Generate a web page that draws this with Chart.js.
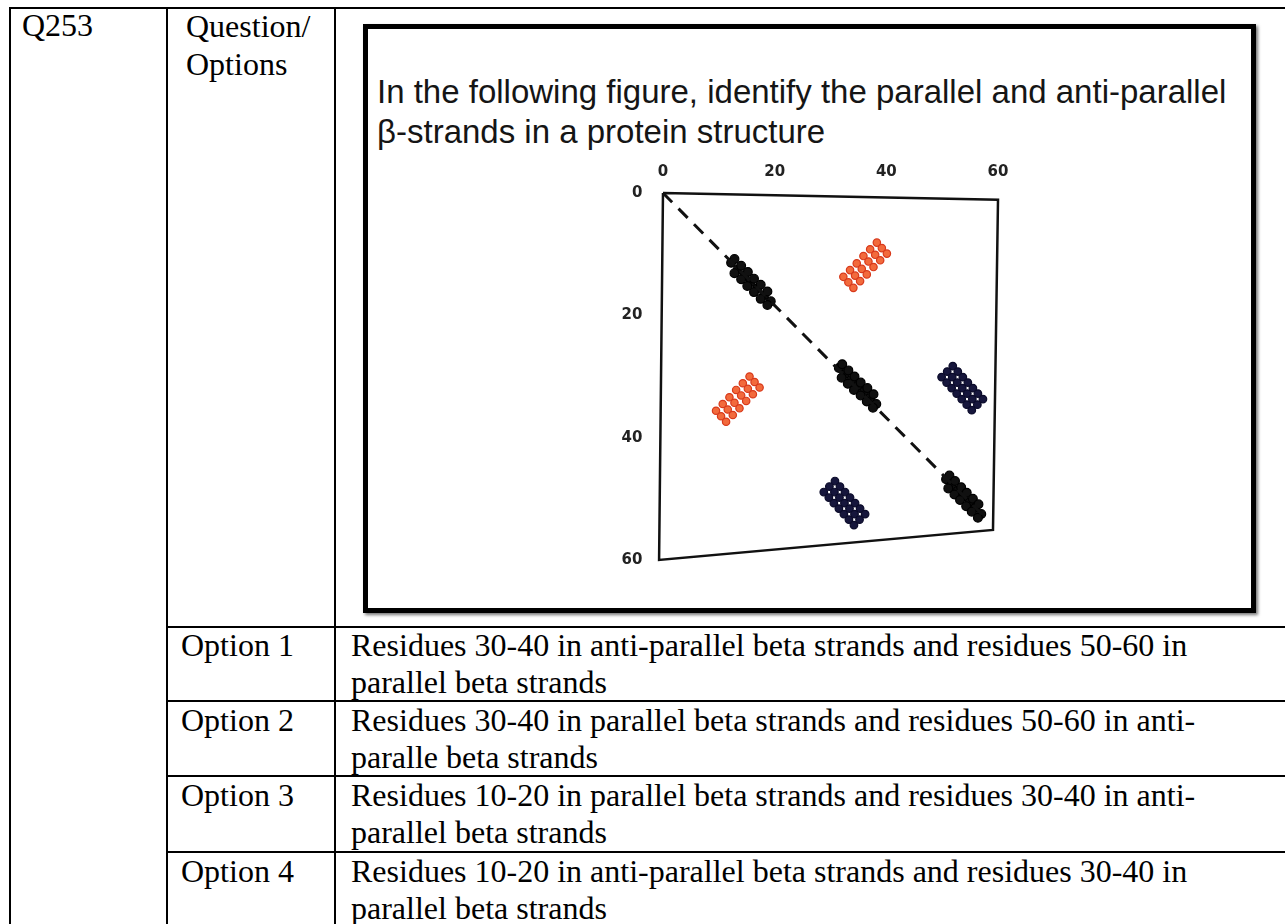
<!DOCTYPE html>
<html><head><meta charset="utf-8">
<script src="https://cdn.jsdelivr.net/npm/chart.js@4.4.1/dist/chart.umd.min.js"></script>
<style>
html,body{margin:0;padding:0;background:#fff;width:1285px;height:924px;overflow:hidden;position:relative;}
.ln{position:absolute;background:#000;}
.t{position:absolute;font-family:"Liberation Serif","Times New Roman",serif;font-size:32px;line-height:37px;color:#000;white-space:nowrap;}
#fig{position:absolute;left:363px;top:24px;width:893px;height:589px;border:5px solid #000;box-sizing:border-box;box-shadow:2px 2px 3px #777;background:#fff;}
#title{position:absolute;left:377px;top:72px;font-family:"Liberation Sans",Arial,sans-serif;font-size:33px;line-height:40px;color:#151515;white-space:nowrap;}
#chartWrap{position:absolute;left:560px;top:140px;width:480px;height:460px;}
</style></head>
<body>
<!-- table lines -->
<div class="ln" style="left:9px;top:7px;width:1276px;height:2px"></div>
<div class="ln" style="left:9px;top:7px;width:2px;height:917px"></div>
<div class="ln" style="left:166px;top:7px;width:2px;height:917px"></div>
<div class="ln" style="left:334px;top:7px;width:2px;height:917px"></div>
<div class="ln" style="left:166px;top:626px;width:1119px;height:2px"></div>
<div class="ln" style="left:166px;top:700px;width:1119px;height:2px"></div>
<div class="ln" style="left:166px;top:775px;width:1119px;height:2px"></div>
<div class="ln" style="left:166px;top:851px;width:1119px;height:2px"></div>

<div class="t" style="left:22px;top:7px">Q253</div>
<div class="t" style="left:186px;top:7px;line-height:38px">Question/<br>Options</div>

<div class="t" style="left:181px;top:627px">Option 1</div>
<div class="t" style="left:351px;top:627px">Residues 30-40 in anti-parallel beta strands and residues 50-60 in<br>parallel beta strands</div>
<div class="t" style="left:181px;top:702px">Option 2</div>
<div class="t" style="left:351px;top:702px">Residues 30-40 in parallel beta strands and residues 50-60 in anti-<br>paralle beta strands</div>
<div class="t" style="left:181px;top:777px">Option 3</div>
<div class="t" style="left:351px;top:777px">Residues 10-20 in parallel beta strands and residues 30-40 in anti-<br>parallel beta strands</div>
<div class="t" style="left:181px;top:853px">Option 4</div>
<div class="t" style="left:351px;top:853px">Residues 10-20 in anti-parallel beta strands and residues 30-40 in<br>parallel beta strands</div>

<div id="fig"></div>
<div id="title">In the following figure, identify the parallel and anti-parallel<br>β-strands in a protein structure</div>
<div id="chartWrap"><canvas id="c" width="480" height="460"></canvas></div>

<script>
// tick labels
const xTicks = [0, 20, 40, 60];
const yTicks = [0, 20, 40, 60];

// plot frame (skewed in the reference picture) and the dashed diagonal
const frameX = [0, 60, 59.1, -0.7, 0];
const frameY = [0, 1.1, 55.1, 60, 0];
const diagX = [0, 58.3];
const diagY = [0, 53.6];

// black clusters on the diagonal
const blackAX = [12.2,13.4,14.6,15.7,16.9,18.1,19.3, 12.8,14.0,15.2,16.3,17.5,18.7, 12.8,14.0,15.1,16.3,17.5,18.7];
const blackAY = [11.4,12.5,13.5,14.6,15.6,16.7,17.7, 10.8,11.9,12.9,14.0,15.0,16.1, 13.1,14.1,15.2,16.2,17.3,18.3];
const blackBX = [31.5,32.6,33.7,34.8,36.0,37.1,38.2, 32.1,33.2,34.3,35.4,36.6,37.7, 32.0,33.1,34.2,35.4,36.5,37.6];
const blackBY = [28.6,29.6,30.6,31.6,32.5,33.5,34.5, 28.0,29.0,30.0,31.0,31.9,32.9, 30.2,31.2,32.2,33.1,34.1,35.1];
const blackCX = [50.7,51.7,52.8,53.8,54.9,55.9,57.0, 51.3,52.3,53.4,54.4,55.5,56.5, 51.1,52.2,53.2,54.3,55.3,56.4];
const blackCY = [46.8,47.7,48.7,49.6,50.6,51.5,52.5, 46.2,47.1,48.1,49.0,50.0,50.9, 48.3,49.3,50.2,51.2,52.1,53.1];

// red (anti-parallel) clusters: three short lines each
const redAX = [32.3,33.5,34.7,35.9,37.1,38.3, 33.2,34.4,35.6,36.8,38.0,39.2, 34.1,35.3,36.5,37.7,38.9,40.1];
const redAY = [13.7,12.6,11.5,10.3,9.2,8.1, 14.6,13.5,12.4,11.2,10.1,9.0, 15.5,14.4,13.3,12.1,11.0,9.9];
const redBX = [9.5,10.7,11.9,13.1,14.3,15.5, 10.4,11.6,12.8,14.0,15.2,16.4, 11.3,12.5,13.7,14.9,16.1,17.3];
const redBY = [35.6,34.5,33.4,32.2,31.1,30.0, 36.5,35.4,34.3,33.1,32.0,30.9, 37.4,36.3,35.2,34.0,32.9,31.8];

// navy (parallel) clusters: three short lines each
const navyAX = [51.9,52.8,53.7,54.6,55.5,56.4,57.3, 50.9,51.8,52.7,53.6,54.5,55.4,56.3, 49.9,50.8,51.7,52.6,53.5,54.4,55.3];
const navyAY = [28.3,29.2,30.1,31.0,31.9,32.8,33.7, 29.2,30.1,31.0,31.9,32.8,33.7,34.6, 30.1,31.0,31.9,32.8,33.7,34.6,35.5];
const navyBX = [30.8,31.7,32.6,33.5,34.4,35.3,36.2, 29.8,30.7,31.6,32.5,33.4,34.3,35.2, 28.8,29.7,30.6,31.5,32.4,33.3,34.2];
const navyBY = [47.1,48.0,48.9,49.8,50.7,51.6,52.5, 48.0,48.9,49.8,50.7,51.6,52.5,53.4, 48.9,49.8,50.7,51.6,52.5,53.4,54.3];

function pts(xs, ys){ return xs.map((x,i)=>({x:x, y:ys[i]})); }
function dots(xs, ys, fill, stroke, r){
  return {data:pts(xs,ys), showLine:false, pointRadius:r, pointHoverRadius:r,
          pointBackgroundColor:fill, pointBorderColor:stroke, pointBorderWidth:1.2, clip:false};
}
const tickFont = {family:'"DejaVu Sans", sans-serif', size:15, weight:'bold'};

new Chart(document.getElementById('c'), {
  type:'scatter',
  data:{datasets:[
    {data:pts(frameX,frameY), showLine:true, borderColor:'#111', borderWidth:2.5, pointRadius:0, tension:0, fill:false, clip:false},
    {data:pts(diagX,diagY), showLine:true, borderColor:'#111', borderWidth:3, borderDash:[13,9], pointRadius:0, tension:0, fill:false, clip:false},
    dots(blackAX, blackAY, '#101010', '#000', 4.4),
    dots(blackBX, blackBY, '#101010', '#000', 4.4),
    dots(blackCX, blackCY, '#101010', '#000', 4.4),
    dots(redAX, redAY, '#f26a3c', '#d8391b', 3.7),
    dots(redBX, redBY, '#f26a3c', '#d8391b', 3.7),
    dots(navyAX, navyAY, '#16163c', '#0b0b2a', 3.8),
    dots(navyBX, navyBY, '#16163c', '#0b0b2a', 3.8)
  ]},
  options:{
    responsive:false, animation:false, events:[],
    layout:{padding:{left:0, top:0, right:39.2, bottom:37}},
    plugins:{legend:{display:false}, tooltip:{enabled:false}, title:{display:false}},
    scales:{
      x:{type:'linear', position:'top', min:-1, max:60.5,
         afterBuildTicks:s=>{ s.ticks = xTicks.map(v=>({value:v})); },
         afterFit:s=>{ s.height = 50; },
         grid:{display:false, drawTicks:false}, border:{display:false},
         ticks:{padding:9, color:'#222', font:tickFont, maxRotation:0, autoSkip:false}},
      y:{type:'linear', reverse:true, min:-0.5, max:60.5,
         afterBuildTicks:s=>{ s.ticks = yTicks.map(v=>({value:v})); },
         afterFit:s=>{ s.width = 97.4; },
         grid:{display:false, drawTicks:false}, border:{display:false},
         ticks:{padding:15, color:'#222', font:tickFont, autoSkip:false}}
    }
  }
});
</script>
</body></html>
